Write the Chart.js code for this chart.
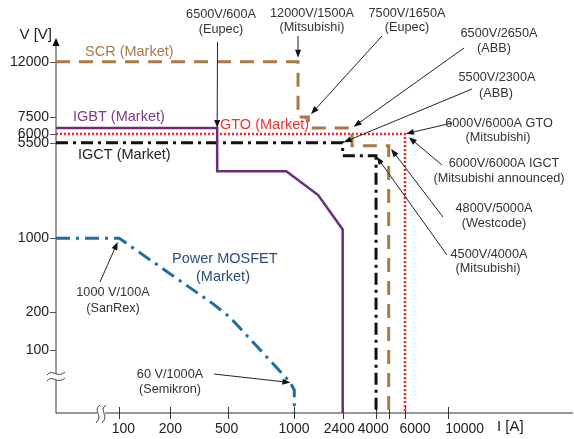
<!DOCTYPE html>
<html><head><meta charset="utf-8">
<script src="https://cdn.jsdelivr.net/npm/chart.js@4"></script>
<style>html,body{margin:0;padding:0;background:#fff}canvas{display:block}</style>
</head><body>
<canvas id="c" width="574" height="439"></canvas>
<script>
// ---- Axes: hand-spaced, broken axes (tick value -> relative position along the axis) ----
const xTickValues = [100, 200, 500, 1000, 2400, 4000, 5000, 6000, 10000];
const xTickFrac   = [0.1224, 0.2199, 0.3333, 0.4609, 0.5545, 0.6190, 0.6435, 0.6750, 0.7588];
const xTickLabels = ['100', '200', '500', '1000', '2400', '4000', '6000', '10000'];
const xLabelFrac  = [0.1302, 0.2211, 0.3302, 0.4603, 0.5478, 0.6137, 0.6944, 0.7905];
const yTickValues = [100, 200, 1000, 5500, 6000, 7500, 12000];
const yTickLabels = ['100', '200', '1000', '5500', '6000', '7500', '12000'];
const yTickFrac   = [0.168, 0.2701, 0.4659, 0.7208, 0.744, 0.7893, 0.9368];
const yLowValue = 60, yLowFrac = 0.072;       // region below the axis break
const xBreakFrac = 0.087, yBreakFrac = 0.096; // where the break marks sit

// ---- Series (current I [A], voltage V [V]) ----
const scrCurrent    = [0, 1070, 1070, 1290, 1290, 2770, 2770, 5000, 5000];
const scrVoltage    = [12000, 12000, 7500, 7500, 6500, 6500, 5200, 5200, 0];
const igbtCurrent   = [0, 420, 420, 920, 1540, 2400, 2400];
const igbtVoltage   = [6500, 6500, 3300, 3300, 2160, 1170, 0];
const gtoCurrent    = [0, 6000, 6000];
const gtoVoltage    = [6000, 6000, 0];
const igctCurrent   = [0, 2400, 2400, 4000, 4000];
const igctVoltage   = [5500, 5500, 4350, 4350, 0];
const mosfetCurrent = [0, 100, 390, 510, 960, 1000, 1000];
const mosfetVoltage = [1000, 1000, 240, 180, 63, 51, 0];

// ---- Device annotations: text + arrow to a (current, voltage) point ----
const noteTexts = [
  ['6500V/600A', '(Eupec)'],
  ['12000V/1500A', '(Mitsubishi)'],
  ['7500V/1650A', '(Eupec)'],
  ['6500V/2650A', '(ABB)'],
  ['5500V/2300A', '(ABB)'],
  ['6000V/6000A GTO', '(Mitsubishi)'],
  ['6000V/6000A IGCT', '(Mitsubishi announced)'],
  ['4800V/5000A', '(Westcode)'],
  ['4500V/4000A', '(Mitsubishi)'],
  ['1000 V/100A', '(SanRex)'],
  ['60 V/1000A', '(Semikron)']
];
const noteTargetCurrent = [420, 1070, 1290, 2770, 2400, 6000, 6000, 5000, 4000, 100, 960];
const noteTargetVoltage = [6500, 12000, 7500, 6500, 5500, 6000, 6000, 5200, 4350, 1000, 63];

// layout of annotations (pixels): line centres and arrow tails
const noteLayout = [
  {lines: [[221, 14], [221, 29]],     tail: [217.5, 42],  gap: 0},
  {lines: [[312, 13], [312, 27]],     tail: [298, 36],    gap: 4},
  {lines: [[407, 13], [407, 27]],     tail: [382, 36],    gap: 4},
  {lines: [[499, 33], [494, 48]],     tail: [464, 48],    gap: 2},
  {lines: [[497, 77], [496, 93]],     tail: [472, 89],    gap: 1},
  {lines: [[499, 123], [498, 137]],   tail: [452, 123],   gap: 1},
  {lines: [[504, 163], [499, 178]],   tail: [442, 165],   gap: 5},
  {lines: [[494, 208], [494, 223]],   tail: [443, 217],   gap: 4},
  {lines: [[489, 254], [488, 268]],   tail: [447, 255],   gap: 1},
  {lines: [[113, 292], [113, 308]],   tail: [100, 282],   gap: 4},
  {lines: [[170, 374], [170, 389]],   tail: [214, 374],   gap: 0}
];
const seriesLabels = [
  {text: 'SCR (Market)', x: 85, y: 52, color: '#a67a4c'},
  {text: 'IGBT (Market)', x: 73, y: 117, color: '#7a3a8a'},
  {text: 'GTO (Market)', x: 220, y: 125, color: '#ff2a2a'},
  {text: 'IGCT (Market)', x: 78, y: 155, color: '#222222'},
  {text: 'Power MOSFET', x: 172, y: 259, color: '#2b4c80'},
  {text: '(Market)', x: 196, y: 277, color: '#2b4c80'}
];

const FONT = "'Liberation Sans', Arial, sans-serif";

// piecewise mapping value -> axis fraction (linear below first anchor, log between anchors)
function makeMap(vals, fracs) {
  return v => {
    if (v <= vals[1]) return fracs[0] + (v - vals[0]) / (vals[1] - vals[0]) * (fracs[1] - fracs[0]);
    let i = 1;
    while (i < vals.length - 2 && v > vals[i + 1]) i++;
    const t = Math.log(v / vals[i]) / Math.log(vals[i + 1] / vals[i]);
    return fracs[i] + t * (fracs[i + 1] - fracs[i]);
  };
}
const fx = makeMap([0, ...xTickValues], [0, ...xTickFrac]);
const fy = makeMap([0, yLowValue, ...yTickValues], [0, yLowFrac, ...yTickFrac]);
const pts = (I, V) => I.map((c, k) => ({x: fx(c), y: fy(V[k])}));

const decor = {
  id: 'decor',
  beforeDatasetsDraw(chart) {
    const {ctx, chartArea: a, scales: {x, y}} = chart;
    ctx.save();
    const yb = y.getPixelForValue(yBreakFrac), xb = x.getPixelForValue(xBreakFrac);
    // y axis
    ctx.strokeStyle = '#7a7a7a'; ctx.lineWidth = 1.5;
    ctx.beginPath(); ctx.moveTo(a.left, a.bottom); ctx.lineTo(a.left, yb + 3);
    ctx.moveTo(a.left, yb - 3); ctx.lineTo(a.left, a.top + 6); ctx.stroke();
    ctx.fillStyle = '#000';
    ctx.beginPath(); ctx.moveTo(a.left, a.top); ctx.lineTo(a.left - 3.5, a.top + 8); ctx.lineTo(a.left + 3.5, a.top + 8); ctx.closePath(); ctx.fill();
    // y ticks
    ctx.strokeStyle = '#555'; ctx.lineWidth = 1;
    yTickFrac.forEach(f => { const p = Math.round(y.getPixelForValue(f)) + 0.5; ctx.beginPath(); ctx.moveTo(a.left - 6, p); ctx.lineTo(a.left, p); ctx.stroke(); });
    // x axis
    ctx.strokeStyle = '#333'; ctx.lineWidth = 1.2;
    ctx.beginPath(); ctx.moveTo(a.left, a.bottom); ctx.lineTo(xb - 4, a.bottom);
    ctx.moveTo(xb + 4, a.bottom); ctx.lineTo(a.right, a.bottom); ctx.stroke();
    ctx.lineWidth = 1;
    xTickFrac.forEach(f => { const p = Math.round(x.getPixelForValue(f)) + 0.5; ctx.beginPath(); ctx.moveTo(p, a.bottom - 6); ctx.lineTo(p, a.bottom + 6); ctx.stroke(); });
    // break marks
    ctx.strokeStyle = '#444'; ctx.lineWidth = 1;
    for (const d of [-3, 3]) {
      ctx.beginPath();
      ctx.moveTo(a.left - 9, yb + d + 1);
      ctx.bezierCurveTo(a.left - 4, yb + d - 6, a.left + 1, yb + d + 5, a.left + 9, yb + d - 2);
      ctx.stroke();
      ctx.beginPath();
      ctx.moveTo(xb + d + 2, a.bottom - 8);
      ctx.bezierCurveTo(xb + d - 6, a.bottom - 2, xb + d + 6, a.bottom + 2, xb + d - 2, a.bottom + 10);
      ctx.stroke();
    }
    ctx.restore();
  },
  afterDatasetsDraw(chart) {
    const {ctx, scales: {x, y}} = chart;
    ctx.save();
    // axis titles
    ctx.fillStyle = '#222'; ctx.textBaseline = 'middle';
    ctx.font = `15px ${FONT}`;
    ctx.textAlign = 'right'; ctx.fillText('V [V]', 52, 35);
    ctx.textAlign = 'left'; ctx.fillText('I [A]', 497, 427);
    // series labels
    ctx.font = `14.5px ${FONT}`;
    seriesLabels.forEach(s => { ctx.fillStyle = s.color; ctx.fillText(s.text, s.x, s.y); });
    // notes
    ctx.font = `12.7px ${FONT}`; ctx.textAlign = 'center'; ctx.fillStyle = '#333';
    noteTexts.forEach((lines, i) => {
      const L = noteLayout[i];
      lines.forEach((t, k) => ctx.fillText(t, L.lines[k][0], L.lines[k][1]));
      const tx = x.getPixelForValue(fx(noteTargetCurrent[i]));
      const ty = y.getPixelForValue(fy(noteTargetVoltage[i]));
      const [sx, sy] = L.tail;
      const dx = tx - sx, dy = ty - sy, len = Math.hypot(dx, dy), ux = dx / len, uy = dy / len;
      const ex = tx - ux * L.gap, ey = ty - uy * L.gap;
      ctx.strokeStyle = '#222'; ctx.lineWidth = 1;
      ctx.beginPath(); ctx.moveTo(sx, sy); ctx.lineTo(ex - ux * 6, ey - uy * 6); ctx.stroke();
      ctx.fillStyle = '#111';
      ctx.beginPath(); ctx.moveTo(ex, ey);
      ctx.lineTo(ex - ux * 8 - uy * 3, ey - uy * 8 + ux * 3);
      ctx.lineTo(ex - ux * 8 + uy * 3, ey - uy * 8 - ux * 3);
      ctx.closePath(); ctx.fill();
      ctx.fillStyle = '#333';
    });
    ctx.restore();
  }
};

const lineDs = (label, I, V, color, width, dash) => ({
  label, data: pts(I, V), showLine: true, borderColor: color, backgroundColor: color,
  borderWidth: width, borderDash: dash, pointRadius: 0, tension: 0, fill: false, clip: false,
  borderCapStyle: 'butt', borderJoinStyle: 'miter'
});

new Chart(document.getElementById('c'), {
  type: 'scatter',
  data: {
    datasets: [
      lineDs('Power MOSFET (Market)', mosfetCurrent, mosfetVoltage, '#1a6fa3', 3, [14, 6, 3, 6]),
      lineDs('IGBT (Market)', igbtCurrent, igbtVoltage, '#6b2d7b', 2.5, []),
      lineDs('IGCT (Market)', igctCurrent, igctVoltage, '#111111', 3, [12, 5, 3, 5]),
      lineDs('SCR (Market)', scrCurrent, scrVoltage, '#a97a46', 3, [14, 9]),
      lineDs('GTO (Market)', gtoCurrent, gtoVoltage, '#ff2020', 2.5, [2, 2])
    ]
  },
  options: {
    responsive: false, animation: false, events: [],
    layout: {padding: {top: 38, right: 1, left: 0, bottom: 0}},
    plugins: {legend: {display: false}, tooltip: {enabled: false}},
    scales: {
      x: {
        type: 'linear', min: 0, max: 1, position: 'bottom',
        afterBuildTicks: s => { s.ticks = xLabelFrac.map(f => ({value: f})); },
        afterFit: s => { s.height = 26; },
        grid: {display: false, drawTicks: false}, border: {display: false},
        ticks: {autoSkip: false, maxRotation: 0, padding: 8, color: '#222',
          font: {family: FONT, size: 14}, callback: (v, i) => xTickLabels[i]}
      },
      y: {
        type: 'linear', min: 0, max: 1, position: 'left',
        afterBuildTicks: s => { s.ticks = yTickFrac.map(f => ({value: f})); },
        afterFit: s => { s.width = 56; },
        grid: {display: false, drawTicks: false}, border: {display: false},
        ticks: {autoSkip: false, padding: 7, color: '#222',
          font: {family: FONT, size: 14}, callback: (v, i) => yTickLabels[i]}
      }
    }
  },
  plugins: [decor]
});
</script>
</body></html>
